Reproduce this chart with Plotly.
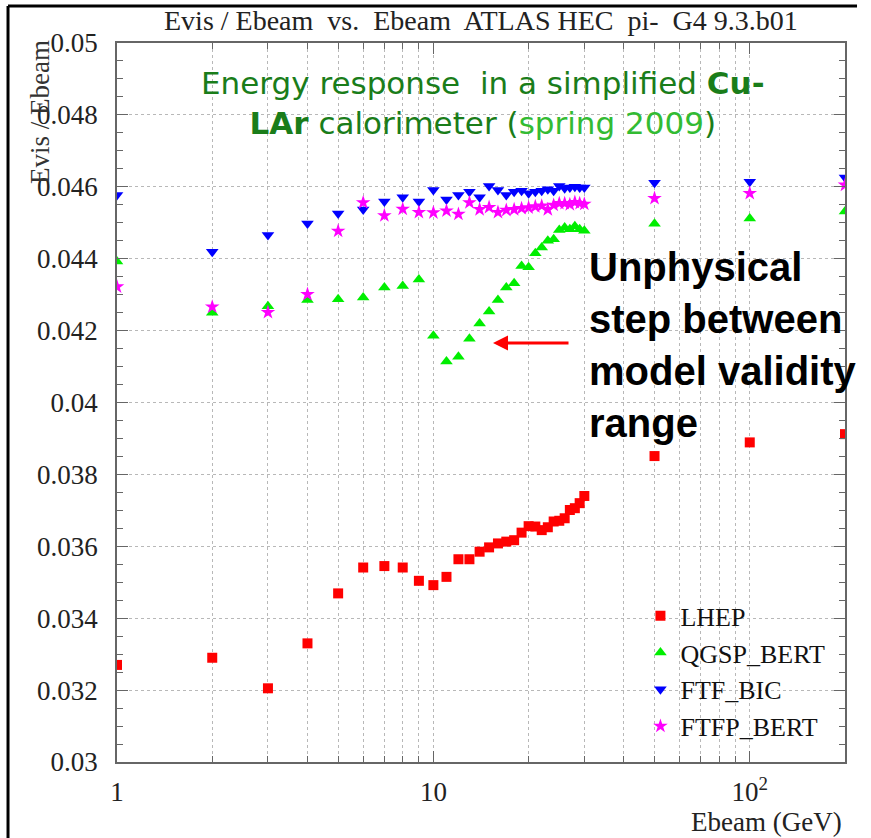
import plotly.graph_objects as go

energies = [1, 2, 3, 4, 5, 6, 7, 8, 9, 10, 11, 12, 13, 14, 15, 16, 17, 18, 19, 20,
            21, 22, 23, 24, 25, 26, 27, 28, 29, 30, 50, 100, 200]

lhep = [0.0327, 0.0329, 0.03205, 0.0333, 0.03469, 0.03541, 0.03545, 0.03541, 0.03504, 0.03492,
        0.03515, 0.03564, 0.03564, 0.03585, 0.03597, 0.03608, 0.03613, 0.03617, 0.03638, 0.03656,
        0.03655, 0.03645, 0.03653, 0.03669, 0.03671, 0.03678, 0.03701, 0.03706, 0.0372, 0.0374,
        0.03851, 0.03889, 0.03912]

qgsp_bert = [0.04392, 0.0425, 0.04268, 0.04285, 0.04287, 0.04292, 0.0432, 0.04324, 0.04342, 0.04186,
             0.04114, 0.04127, 0.04177, 0.0422, 0.04253, 0.04285, 0.0432, 0.04332, 0.0438, 0.04376,
             0.04415, 0.04431, 0.0445, 0.04454, 0.0448, 0.04487, 0.04482, 0.0449, 0.04482, 0.04478,
             0.04497, 0.04512, 0.04531]

ftf_bic = [0.04577, 0.04419, 0.04466, 0.04498, 0.04526, 0.04537, 0.04559, 0.04571, 0.04559, 0.04591,
           0.04565, 0.04577, 0.04586, 0.04571, 0.04602, 0.04591, 0.04577, 0.04586, 0.04589, 0.04582,
           0.04586, 0.04589, 0.04593, 0.04589, 0.04602, 0.04596, 0.04598, 0.046, 0.04598, 0.04598,
           0.04611, 0.04614, 0.04626]

ftfp_bert = [0.04322, 0.04266, 0.04251, 0.04301, 0.04477, 0.04556, 0.0452, 0.04538, 0.04529, 0.04528,
             0.04533, 0.04524, 0.04556, 0.04537, 0.04543, 0.04529, 0.04535, 0.04537, 0.0454, 0.04542,
             0.04545, 0.04547, 0.04537, 0.04549, 0.04554, 0.04554, 0.04551, 0.04557, 0.04554, 0.04552,
             0.04568, 0.04582, 0.04605]

y_tickvals = [0.03, 0.032, 0.034, 0.036, 0.038, 0.04, 0.042, 0.044, 0.046, 0.048, 0.05]
y_ticktext = ["0.03", "0.032", "0.034", "0.036", "0.038", "0.04", "0.042", "0.044", "0.046", "0.048", "0.05"]
x_tickvals = [1, 10, 100]
x_ticktext = ["1", "10", "10<sup>2</sup>"]
x_minorvals = [2, 3, 4, 5, 6, 7, 8, 9, 20, 30, 40, 50, 60, 70, 80, 90, 200]

SERIF = "Liberation Serif, Times New Roman, serif"

fig = go.Figure()
series = [
    ("LHEP", lhep, "square", "#ff0000", 10),
    ("QGSP_BERT", qgsp_bert, "triangle-up", "#00ee00", 11),
    ("FTF_BIC", ftf_bic, "triangle-down", "#0000ff", 11),
    ("FTFP_BERT", ftfp_bert, "star", "#ff00ff", 11),
]
for name, vals, sym, col, sz in series:
    fig.add_trace(go.Scatter(
        x=energies, y=vals, mode="markers", name=name, legendgroup=name,
        marker=dict(symbol=sym, color=col, size=sz, line=dict(width=0)),
    ))

axis_common = dict(
    showline=True, linecolor="#666666", linewidth=1.5, mirror="ticks",
    ticks="inside", tickcolor="#666666", ticklen=11,
    showgrid=True, gridcolor="#b8b8b8", griddash="dot", gridwidth=1,
    zeroline=False,
    tickfont=dict(family=SERIF, size=27, color="#222222"),
)

fig.update_xaxes(
    type="log", range=[0, 2.30103],
    tickmode="array", tickvals=x_tickvals, ticktext=x_ticktext, ticklabelstandoff=5,
    minor=dict(tickmode="array", tickvals=x_minorvals, ticks="inside", ticklen=6,
               tickcolor="#666666", showgrid=True, gridcolor="#b8b8b8", griddash="dot"),
    **axis_common,
)
fig.update_yaxes(
    range=[0.03, 0.05],
    tickmode="array", tickvals=y_tickvals, ticktext=y_ticktext, ticklabelstandoff=12,
    minor=dict(tickmode="linear", tick0=0.03, dtick=0.0005, ticks="inside", ticklen=6,
               tickcolor="#666666", showgrid=False),
    **axis_common,
)

annotations = [
    dict(text="Evis / Ebeam  vs.  Ebeam  ATLAS HEC  pi-  G4 9.3.b01",
         xref="paper", yref="paper", x=0.5, y=1.031, xanchor="center", yanchor="middle",
         showarrow=False, font=dict(family=SERIF, size=28, color="#222222")),
    dict(text="Evis / Ebeam", textangle=-90,
         xref="paper", yref="paper", x=-0.1058, y=0.904, xanchor="center", yanchor="middle",
         showarrow=False, font=dict(family=SERIF, size=27, color="#333333")),
    dict(text="Ebeam (GeV)",
         xref="paper", yref="paper", x=0.999, y=-0.0834, xanchor="right", yanchor="middle",
         showarrow=False, font=dict(family=SERIF, size=27, color="#222222")),
    dict(text=("Energy response  in a simplified <b>Cu-</b><br>"
               "<b>LAr</b> calorimeter (<span style='color:#33bb33'>spring 2009</span>)"),
         xref="paper", yref="paper", x=0.5027, y=0.9166, xanchor="center", yanchor="middle",
         align="center", showarrow=False,
         font=dict(family="DejaVu Sans, sans-serif", size=31, color="#1a7d1a")),
    dict(text="<b>Unphysical<br>step between<br>model validity<br>range</b>",
         xref="paper", yref="paper", x=0.645, y=0.5795, xanchor="left", yanchor="middle",
         align="left", showarrow=False,
         font=dict(family="Liberation Sans, Arial, sans-serif", size=40, color="#000000")),
    dict(text="", xref="paper", yref="paper", x=0.5165, y=0.5828,
         showarrow=True, ax=77, ay=0, arrowhead=2, arrowsize=1, arrowwidth=3,
         arrowcolor="#ff0000"),
]
fig.update_layout(annotations=annotations)

fig.update_layout(
    width=871, height=838,
    margin=dict(l=117, r=26, t=43, b=76),
    paper_bgcolor="white", plot_bgcolor="white",
    showlegend=True,
    legend=dict(x=0.719, y=0.236, xanchor="left", yanchor="top",
                bgcolor="rgba(0,0,0,0)", tracegroupgap=0, traceorder="grouped",
                font=dict(family=SERIF, size=26, color="#111111")),
    shapes=[
        dict(type="line", xref="paper", yref="paper", x0=-0.1497, x1=1.0165, y0=1.0515, y1=1.0515,
             line=dict(color="black", width=3)),
        dict(type="line", xref="paper", yref="paper", x0=-0.1497, x1=-0.1497, y0=1.0515, y1=-0.11,
             line=dict(color="black", width=3)),
    ],
)

fig.write_html("out.html")
